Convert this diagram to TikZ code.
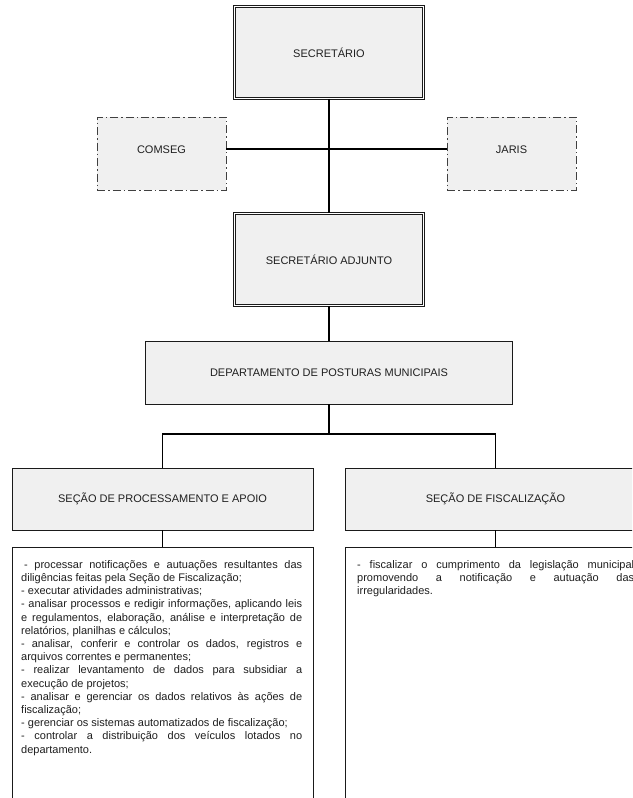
\documentclass[tikz,border=0pt]{standalone}
\usepackage{fontspec}
\setmainfont{Liberation Sans}
\definecolor{boxgray}{HTML}{F0F0F0}
\definecolor{inkline}{HTML}{1A1A1A}
\newcommand{\nohyph}{\hyphenpenalty=10000\relax\exhyphenpenalty=10000\relax}
\begin{document}
\begin{tikzpicture}[x=1pt,y=-1pt,
  lbl/.style={font=\fontsize{11}{13}\selectfont, text=black!88},
  box/.style={lbl, draw=inkline, line width=0.9pt, fill=boxgray, inner sep=0pt},
  dbox/.style={lbl, draw=inkline, line width=0.8pt, double=white,
    double distance=1.6pt, fill=boxgray, inner sep=0pt,
    minimum width=189pt, minimum height=92pt},
  dashbox/.style={lbl, draw=black!75, line width=0.8pt,
    dash pattern=on 8pt off 3pt on 1.5pt off 3pt, fill=boxgray, inner sep=0pt,
    minimum width=129pt, minimum height=73pt, text height=8pt, text depth=9pt},
  descbox/.style={draw=inkline, line width=0.9pt, fill=white, inner sep=0pt,
    minimum width=301pt, minimum height=263pt, anchor=north},
  desctext/.style={anchor=north west, inner sep=0pt, align=justify,
    font=\fontsize{11}{13.2}\selectfont, text=black!88},
  conn/.style={draw=black, line width=1.1pt}]

\useasboundingbox (0,0) rectangle (632,798);
\clip (0,0) rectangle (632,798);

% top of the hierarchy
\node[dbox] (sec) at (329,52.5) {SECRETÁRIO};
\node[dbox] (adj) at (329,259.5) {SECRETÁRIO ADJUNTO};

% advisory bodies
\node[dashbox] (comseg) at (161.5,153.5) {COMSEG};
\node[dashbox] (jaris) at (511.5,153.5) {JARIS};

% department and its sections
\node[box, minimum width=367pt, minimum height=63pt] (dept) at (329,372.5)
  {DEPARTAMENTO DE POSTURAS MUNICIPAIS};
\node[box, minimum width=301pt, minimum height=62pt] (secA) at (162.5,499)
  {SEÇÃO DE PROCESSAMENTO E APOIO};
\node[box, minimum width=301pt, minimum height=62pt] (secB) at (495.5,499)
  {SEÇÃO DE FISCALIZAÇÃO};

% duties of each section
\node[descbox] (descA) at (162.5,547) {};
\node[descbox] (descB) at (495.5,547) {};

\node[desctext, text width=281pt] (dutiesA) at (21,558.8) {\nohyph
\strut\hspace*{3pt}- processar notificações e autuações resultantes das\linebreak
diligências feitas pela Seção de Fiscalização;\par
- executar atividades administrativas;\par
- analisar processos e redigir informações, aplicando leis\linebreak
e regulamentos, elaboração, análise e interpretação de\linebreak
relatórios, planilhas e cálculos;\par
- analisar, conferir e controlar os dados, registros e\linebreak
arquivos correntes e permanentes;\par
- realizar levantamento de dados para subsidiar a\linebreak
execução de projetos;\par
- analisar e gerenciar os dados relativos às ações de\linebreak
fiscalização;\par
- gerenciar os sistemas automatizados de fiscalização;\par
- controlar a distribuição dos veículos lotados no\linebreak
departamento.};

\node[desctext, text width=277pt] (dutiesB) at (357,558.8) {\nohyph
\strut- fiscalizar o cumprimento da legislação municipal\linebreak
promovendo a notificação e autuação das\linebreak
irregularidades.};

% connectors
\coordinate (bus) at (329,434);
\draw[conn] (sec.south) -- (adj.north);
\draw[conn] ([yshift=4.5pt]comseg.east) -- ([yshift=4.5pt]jaris.west);
\draw[conn] (adj.south) -- (dept.north);
\draw[conn] (dept.south) -- (bus);
\draw[conn] (secA.north) |- (bus) -| (secB.north);
\draw[conn] (secA.south) -- (descA.north);
\draw[conn] (secB.south) -- (descB.north);
\end{tikzpicture}
\end{document}
